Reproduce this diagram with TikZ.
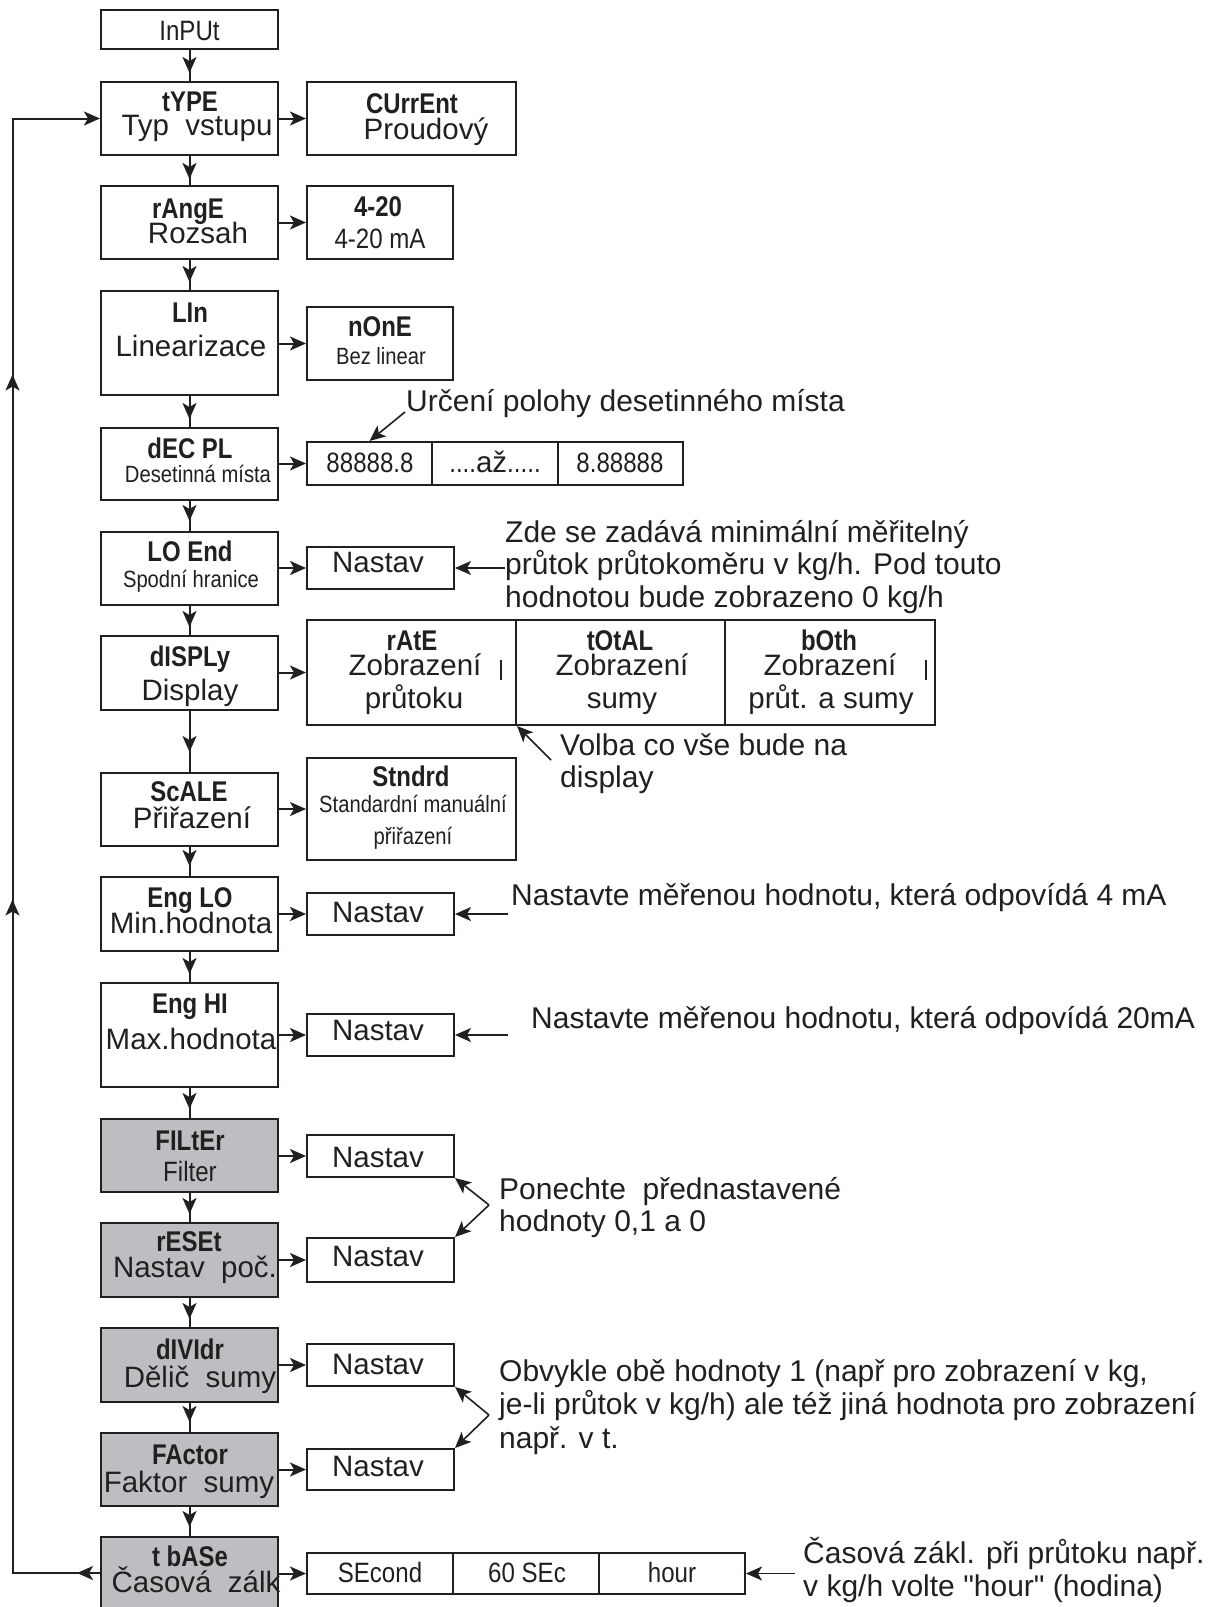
\documentclass[tikz,border=0pt]{standalone}
\usepackage{fontspec}
\setmainfont{Liberation Sans}
\newfontfamily\narrowf[FakeStretch=0.86]{Liberation Sans}
\newfontfamily\codef[FakeStretch=0.84]{Liberation Sans}
\newfontfamily\quotef[Ligatures=TeXOff]{Liberation Sans}
\newcommand\regsz{\normalfont\fontsize{29.5}{31}\selectfont}
\usetikzlibrary{arrows.meta,decorations.markings}
\definecolor{ink}{RGB}{35,31,32}
\definecolor{boxgray}{RGB}{189,190,194}
\begin{document}
\begin{tikzpicture}[x=1pt,y=-1pt,color=ink,
  ln/.style={draw=ink, line width=2pt},
  box/.style={ln, rectangle, inner sep=0pt},
  mbox/.style={box, minimum width=177pt, minimum height=#1},
  gbox/.style={mbox=#1, fill=boxgray},
  nbox/.style={box, minimum width=147pt, minimum height=#1},
  tipst/.style={-{Stealth[length=16pt,width=14pt,inset=4pt]}},
  arr/.style={ln, tipst},
  narr/.style={draw=ink, line width=1.6pt, tipst},
  vcon/.style={ln, decoration={markings, mark=at position -#1 with {\arrow{Stealth[length=16pt,width=14pt,inset=4pt]}}}, postaction={decorate}},
  vcon/.default=8pt,
  txt/.style={inner sep=0pt, text height=#1, text depth=0pt},
  reg/.style={font=\fontsize{29.5}{31}\selectfont, txt=21pt},
  code/.style={font=\codef\bfseries\fontsize{28.5}{30}\selectfont, txt=20.4pt},
  nar/.style={font=\narrowf\fontsize{28}{29}\selectfont, txt=20pt},
  nars/.style={font=\narrowf\fontsize{23.5}{24}\selectfont, txt=17pt},
  note/.style={font=\fontsize{30}{31}\selectfont, txt=21.5pt, anchor=west}
]
\fill[white] (0,0) rectangle (1212,1607);
\useasboundingbox (0,0) rectangle (1212,1607);

% main column
\node[mbox=39pt] (input) at (189.5,29.5) {};
\node[mbox=73pt] (type) at (189.5,118.5) {};
\node[mbox=73pt] (range) at (189.5,222.5) {};
\node[mbox=104pt] (lin) at (189.5,343) {};
\node[mbox=72pt] (dec) at (189.5,464) {};
\node[mbox=73pt] (loend) at (189.5,568.5) {};
\node[mbox=74pt] (disp) at (189.5,673) {};
\node[mbox=73pt] (scale) at (189.5,809.5) {};
\node[mbox=74pt] (englo) at (189.5,914) {};
\node[mbox=104pt] (enghi) at (189.5,1035) {};
\node[gbox=73pt] (filter) at (189.5,1155.5) {};
\node[gbox=74pt] (reset) at (189.5,1260) {};
\node[gbox=74pt] (divid) at (189.5,1365) {};
\node[gbox=73pt] (factor) at (189.5,1469.5) {};
\node[gbox=72pt] (tbase) at (189.5,1573) {};

% right boxes
\node[box, minimum width=209pt, minimum height=73pt] (current) at (411.5,118.5) {};
\node[box, minimum width=146pt, minimum height=73pt] (r420) at (380,222.5) {};
\node[box, minimum width=146pt, minimum height=73pt] (none) at (380,343.5) {};
\node[box, minimum width=125pt, minimum height=43pt] (c1) at (369.5,463.5) {};
\node[box, minimum width=126pt, minimum height=43pt] (c2) at (495,463.5) {};
\node[box, minimum width=125pt, minimum height=43pt] (c3) at (620.5,463.5) {};
\node[nbox=42pt] (nlo) at (380.5,568) {};
\node[box, minimum width=209pt, minimum height=105pt] (d1) at (411.5,672.5) {};
\node[box, minimum width=209pt, minimum height=105pt] (d2) at (620.5,672.5) {};
\node[box, minimum width=210pt, minimum height=105pt] (d3) at (830,672.5) {};
\node[box, minimum width=209pt, minimum height=102pt] (stndrd) at (411.5,809) {};
\node[nbox=42pt] (nel) at (380.5,914) {};
\node[nbox=42pt] (neh) at (380.5,1035) {};
\node[nbox=42pt] (nfi) at (380.5,1156) {};
\node[nbox=44pt] (nre) at (380.5,1260) {};
\node[nbox=42pt] (ndv) at (380.5,1365) {};
\node[nbox=41pt] (nfa) at (380.5,1469.5) {};
\node[box, minimum width=146pt, minimum height=41pt] (t1) at (380,1573.5) {};
\node[box, minimum width=146pt, minimum height=41pt] (t2) at (526,1573.5) {};
\node[box, minimum width=146pt, minimum height=41pt] (t3) at (672,1573.5) {};

% vertical connectors
\draw[vcon] (input.south) -- (type.north);
\draw[vcon=6pt] (type.south) -- (range.north);
\draw[vcon] (range.south) -- (lin.north);
\draw[vcon] (lin.south) -- (dec.north);
\draw[vcon=10pt] (dec.south) -- (loend.north);
\draw[vcon] (loend.south) -- (disp.north);
\draw[vcon=20pt] (disp.south) -- (scale.north);
\draw[vcon=10pt] (scale.south) -- (englo.north);
\draw[vcon] (englo.south) -- (enghi.north);
\draw[vcon=9pt] (enghi.south) -- (filter.north);
\draw[vcon] (filter.south) -- (reset.north);
\draw[vcon] (reset.south) -- (divid.north);
\draw[vcon=10pt] (divid.south) -- (factor.north);
\draw[vcon=9pt] (factor.south) -- (tbase.north);

% horizontal connectors
\draw[arr] (type.east |- current.west) -- (current.west);
\draw[arr] (range.east |- r420.west) -- (r420.west);
\draw[arr] (lin.east |- none.west) -- (none.west);
\draw[arr] (dec.east |- c1.west) -- (c1.west);
\draw[arr] (loend.east |- nlo.west) -- (nlo.west);
\draw[arr] (disp.east |- d1.west) -- (d1.west);
\draw[arr] (scale.east |- stndrd.west) -- (stndrd.west);
\draw[arr] (englo.east |- nel.west) -- (nel.west);
\draw[arr] (enghi.east |- neh.west) -- (neh.west);
\draw[arr] (filter.east |- nfi.west) -- (nfi.west);
\draw[arr] (reset.east |- nre.west) -- (nre.west);
\draw[arr] (divid.east |- ndv.west) -- (ndv.west);
\draw[arr] (factor.east |- nfa.west) -- (nfa.west);
\draw[arr] (tbase.east |- t1.west) -- (t1.west);

% return loop
\coordinate (lpb) at (12.5,1573);
\coordinate (lpt) at (12.5,118.5);
\draw[arr, decoration={markings,
    mark=at position 23pt with {\arrow{Stealth[length=16pt,width=14pt,inset=4pt]}},
    mark=at position 761pt with {\arrow{Stealth[length=16pt,width=14pt,inset=4pt]}},
    mark=at position 1286pt with {\arrow{Stealth[length=16pt,width=14pt,inset=4pt]}}},
    postaction={decorate}] (tbase.west) -- (lpb) -- (lpt) -- (type.west);

% annotation pointers
\coordinate (a1) at (405,412);
\draw[narr] (a1) -- (c1.north);
\coordinate (a2) at (505,568);
\draw[narr] (a2) -- (nlo.east);
\coordinate (a3) at (551,760);
\draw[narr] (a3) -- (d1.south east);
\coordinate (a4) at (508,914);
\draw[narr] (a4) -- (nel.east);
\coordinate (a5) at (508,1035);
\draw[narr] (a5) -- (neh.east);
\coordinate (a6) at (489,1205);
\draw[narr] (a6) -- (nfi.south east);
\draw[narr] (a6) -- (nre.north east);
\coordinate (a7) at (489,1415);
\draw[narr] (a7) -- (ndv.south east);
\draw[narr] (a7) -- (nfa.north east);
\coordinate (a8) at (795,1573.5);
\draw[narr] (a8) -- (t3.east);

% small stray marks
\draw[line width=1.5pt] (501,660) -- (501,680);
\draw[line width=1.5pt] (926,660) -- (926,680);

% texts
\node[nar] (tInput) at (189.5,30.5) {InPUt};
\node[code] (tType) at (190,101) {tYPE};
\node[reg] (dType) at (197,125) {Typ\ \ vstupu};
\node[code] (tCur) at (412,103) {CUrrEnt};
\node[reg] (dCur) at (426,129) {Proudový};
\node[code] (tRange) at (188,208) {rAngE};
\node[reg] (dRange) at (198,233) {Rozsah};
\node[code] (t420) at (378,206) {4-20};
\node[nar] (d420) at (380,238) {4-20 mA};
\node[code] (tLin) at (190,312) {LIn};
\node[reg] (dLin) at (191,346) {Linearizace};
\node[code] (tNone) at (380,326) {nOnE};
\node[nars] (dNone) at (381,356) {Bez linear};
\node[code] (tDec) at (190,448) {dEC PL};
\node[nars] (dDec) at (198,474) {Desetinná místa};
\node[nar] (v1) at (370,462.5) {88888.8};
\node[nar] (v2) at (495,462.5) {....{\regsz až}.....};
\node[nar] (v3) at (620,462.5) {8.88888};
\node[code] (tLo) at (190,551) {LO End};
\node[nars] (dLo) at (191,579) {Spodní hranice};
\node[reg] (xLo) at (378,562) {Nastav};
\node[code] (tDisp) at (190,656) {dISPLy};
\node[reg] (dDisp) at (190,690) {Display};
\node[code] (tRate) at (412,640) {rAtE};
\node[reg] (aRate) at (415,665) {Zobrazení};
\node[reg] (bRate) at (414,698) {průtoku};
\node[code] (tTot) at (620,640) {tOtAL};
\node[reg] (aTot) at (622,665) {Zobrazení};
\node[reg] (bTot) at (622,698) {sumy};
\node[code] (tBoth) at (829,640) {bOth};
\node[reg] (aBoth) at (830,665) {Zobrazení};
\node[reg] (bBoth) at (831,698) {průt. a sumy};
\node[code] (tScale) at (189,791) {ScALE};
\node[reg] (dScale) at (192,818) {Přiřazení};
\node[code] (tStd) at (411,776) {Stndrd};
\node[nars] (aStd) at (413,804) {Standardní manuální};
\node[nars] (bStd) at (413,836) {přiřazení};
\node[code] (tElo) at (190,897) {Eng LO};
\node[reg] (dElo) at (191,923) {Min.hodnota};
\node[reg] (xElo) at (378,912) {Nastav};
\node[code] (tEhi) at (190,1003) {Eng HI};
\node[reg] (dEhi) at (191,1039) {Max.hodnota};
\node[reg] (xEhi) at (378,1030) {Nastav};
\node[code] (tFil) at (190,1140) {FILtEr};
\node[nar] (dFil) at (190,1171) {Filter};
\node[reg] (xFil) at (378,1157) {Nastav};
\node[code] (tRes) at (189,1241) {rESEt};
\node[reg] (dRes) at (195,1267) {Nastav\ \ poč.};
\node[reg] (xRes) at (378,1256) {Nastav};
\node[code] (tDiv) at (190,1349) {dIVIdr};
\node[reg] (dDiv) at (200,1377) {Dělič\ \ sumy};
\node[reg] (xDiv) at (378,1364) {Nastav};
\node[code] (tFac) at (190,1454) {FActor};
\node[reg] (dFac) at (189,1482) {Faktor\ \ sumy};
\node[reg] (xFac) at (378,1466) {Nastav};
\node[code] (tTb) at (190,1556) {t bASe};
\node[reg] (dTb) at (196,1582) {Časová\ \ zálk};
\node[nar] (s1) at (380,1572) {SEcond};
\node[nar] (s2) at (527,1572) {60 SEc};
\node[nar] (s3) at (672,1572) {hour};

% annotations
\node[note] (n1) at (406,401) {Určení polohy desetinného místa};
\node[note] (n2a) at (505,532) {Zde se zadává minimální měřitelný};
\node[note] (n2b) at (505,564) {průtok průtokoměru v kg/h. Pod touto};
\node[note] (n2c) at (505,597) {hodnotou bude zobrazeno 0 kg/h};
\node[note] (n3a) at (560,745) {Volba co vše bude na};
\node[note] (n3b) at (560,777) {display};
\node[note] (n4) at (511,895) {Nastavte měřenou hodnotu, která odpovídá 4 mA};
\node[note] (n5) at (531,1018) {Nastavte měřenou hodnotu, která odpovídá 20mA};
\node[note] (n6a) at (499,1189) {Ponechte\ \ přednastavené};
\node[note] (n6b) at (499,1221) {hodnoty 0,1 a 0};
\node[note] (n7a) at (499,1371) {Obvykle obě hodnoty 1 (např pro zobrazení v kg,};
\node[note] (n7b) at (499,1404) {je-li průtok v kg/h) ale též jiná hodnota pro zobrazení};
\node[note] (n7c) at (499,1438) {např. v t.};
\node[note] (n8a) at (803,1553) {Časová zákl. při průtoku např.};
\node[note, font=\quotef\fontsize{30}{31}\selectfont] (n8b) at (803,1586) {v kg/h volte "hour" (hodina)};
\end{tikzpicture}
\end{document}
